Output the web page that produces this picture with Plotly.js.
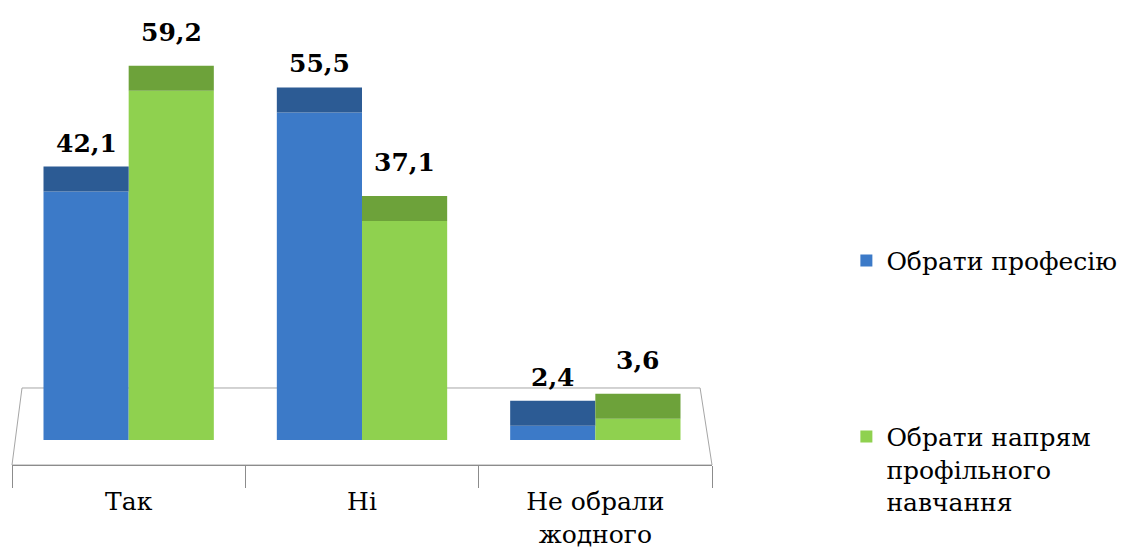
<!DOCTYPE html>
<html>
<head>
<meta charset="utf-8">
<script src="https://cdn.plot.ly/plotly-3.0.1.min.js"></script>
<style>html,body{margin:0;padding:0;background:#fff;}#chart{width:1127px;height:553px;}</style>
</head>
<body>
<div id="chart"></div>
<script>
// ---- data ----
const categories = ["Так", "Ні", "Не обрали<br>жодного"];
const seriesNames = ["Обрати професію", "Обрати напрям<br>профільного<br>навчання"];
const professionValues = [42.1, 55.5, 2.4];
const directionValues = [59.2, 37.1, 3.6];

// ---- style ----
const FONT = "DejaVu Serif";
const blueFront = "#3c7ac8", blueTop = "#2c5b94";
const greenFront = "#8fd14f", greenTop = "#6da23a";
const capDepth = 4.25;          // visual depth of 3D top face, in axis units
const pxPerUnit = 5.9;

function fmt(v){ return v.toFixed(1).replace('.', ','); }

function mainTrace(vals, name, color, group, legend){
  return {type:'bar', x:categories, y:vals, name:name, offsetgroup:group,
    marker:{color:color, line:{width:0}}, legend:legend, hoverinfo:'skip'};
}
function capTrace(vals, color, group){
  return {type:'bar', x:categories, y:vals.map(()=>capDepth), base:vals, offsetgroup:group,
    marker:{color:color, line:{width:0}}, showlegend:false, hoverinfo:'skip'};
}

const traces = [
  mainTrace(professionValues, seriesNames[0], blueFront, 'a', 'legend'),
  mainTrace(directionValues, seriesNames[1], greenFront, 'b', 'legend2'),
  capTrace(professionValues, blueTop, 'a'),
  capTrace(directionValues, greenTop, 'b')
];

const barHalf = 42.5;
const annotations = [];
[[professionValues, -barHalf, 7], [directionValues, barHalf, 17]].forEach(([vals, dx, dy])=>{
  vals.forEach((v,i)=>{
    annotations.push({x:categories[i], y:v+capDepth, xref:'x', yref:'y', text:fmt(v),
      showarrow:false, xanchor:'center', yanchor:'bottom', xshift:dx, yshift:dy,
      font:{family:FONT, size:25, color:'#000', weight:700}});
  });
});

const layout = {
  width:1127, height:553,
  font:{family:FONT},
  margin:{l:12, r:415, t:0, b:88, pad:0},
  paper_bgcolor:'#fff', plot_bgcolor:'rgba(0,0,0,0)',
  barmode:'group', bargap:0.27, bargroupgap:0,
  showlegend:true,
  xaxis:{type:'category', showline:true, linecolor:'#8c8c8c', linewidth:1,
    ticks:'outside', tickson:'boundaries', ticklen:22, tickcolor:'#8c8c8c', tickwidth:1,
    ticklabelstandoff:14,
    showgrid:false, zeroline:false, fixedrange:true,
    tickfont:{family:FONT, size:25, color:'#000'}},
  yaxis:{range:[-25/pxPerUnit, 440/pxPerUnit], visible:false, showgrid:false, zeroline:false, fixedrange:true},
  shapes:[
    {type:'path', xref:'paper', yref:'paper', layer:'below',
     path:'M 0.0143 0.1656 L 0.983 0.1656 L 1 0 L 0 0 Z',
     fillcolor:'#ffffff', line:{color:'#a6a6a6', width:1}}
  ],
  legend:{xref:'container', yref:'container', x:0.751, y:0.570, xanchor:'left', yanchor:'top',
    bgcolor:'rgba(0,0,0,0)', font:{family:FONT, size:25, color:'#000'}, valign:'top'},
  legend2:{xref:'container', yref:'container', x:0.751, y:0.252, xanchor:'left', yanchor:'top',
    bgcolor:'rgba(0,0,0,0)', font:{family:FONT, size:25, color:'#000'}, valign:'top'},
  annotations:annotations
};

Plotly.newPlot('chart', traces, layout, {displayModeBar:false, staticPlot:true});
</script>
</body>
</html>
